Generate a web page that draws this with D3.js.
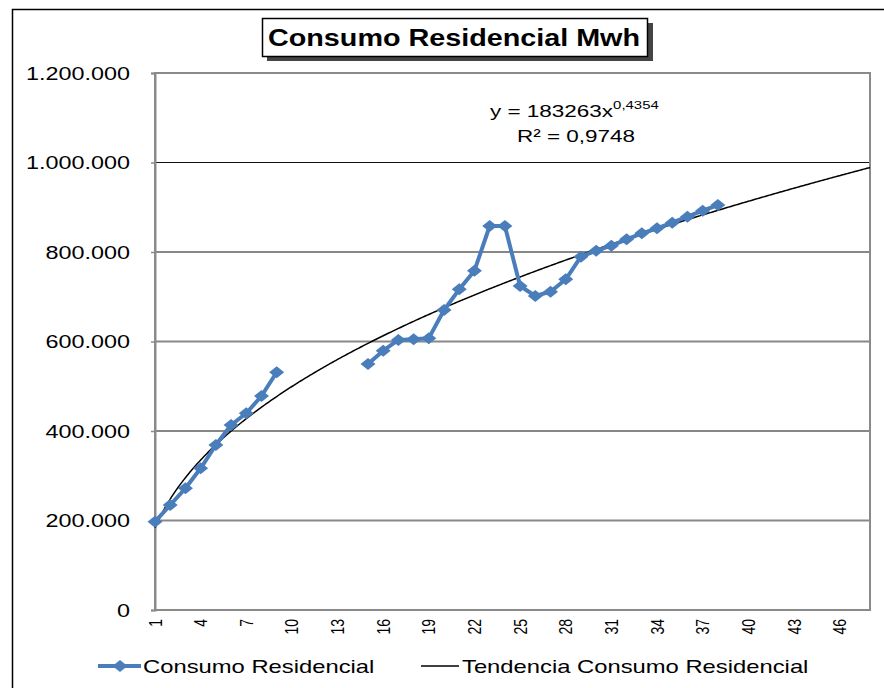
<!DOCTYPE html>
<html>
<head>
<meta charset="utf-8">
<script src="https://cdn.jsdelivr.net/npm/d3@7"></script>
<style>
  body { margin: 0; background: #fff; }
  svg { display: block; font-family: "Liberation Sans", Arial, sans-serif; }
</style>
</head>
<body>
<div id="chart"></div>
<script>
const categories = d3.range(1, 49)
const consumo = [
    197300, 234600, 272000, 316600, 368700, 413400, 439600, 478200, 531200,
    null, null, null, null, null,
    549700, 579400, 603400, 605000, 607500, 670400, 716600, 758200, 858100, 858100,
    724000, 701700, 711300, 739000, 789500, 803000, 814100, 828400, 841800, 853000,
    865500, 878900, 892300, 905000,
    null, null, null, null, null, null, null, null, null, null
]
const yTicks = [0, 200000, 400000, 600000, 800000, 1000000, 1200000]
const xTickLabels = [1, 4, 7, 10, 13, 16, 19, 22, 25, 28, 31, 34, 37, 40, 43, 46]
const trendCoef = 183263
const trendExp = 0.4354
const rSquared = "0,9748"

const W = 884, H = 688
const SX = 1.3   // the picture is stretched sideways
const plotLeft = 155, plotRight = 870, plotTop = 73, plotBottom = 610
const blue = "#4a7ebb"

const svg = d3.select("#chart").append("svg").attr("width", W).attr("height", H)

const locale = d3.formatLocale({ decimal: ",", thousands: ".", grouping: [3], currency: ["", ""] })
const fmt = locale.format(",d")

const x = d3.scalePoint().domain(categories).range([plotLeft, plotRight])
const xLin = d3.scaleLinear().domain([1, 48]).range([plotLeft, plotRight])
const y = d3.scaleLinear().domain([0, 1200000]).range([plotBottom, plotTop])

// outer frame
svg.append("rect")
    .attr("x", 12.5).attr("y", 9.5).attr("width", 900).attr("height", 700)
    .attr("fill", "none").attr("stroke", "#000").attr("stroke-width", 1.5)

// gridlines (some come out grey in the original, some black)
const greyGrid = [200000, 600000]
svg.selectAll("line.grid")
    .data(yTicks.filter(d => d > 0 && d < 1200000))
    .join("line")
    .attr("class", "grid")
    .attr("x1", plotLeft).attr("x2", plotRight)
    .attr("y1", d => y(d)).attr("y2", d => y(d))
    .attr("stroke", d => greyGrid.includes(d) ? "#888" : "#111")
    .attr("stroke-width", d => greyGrid.includes(d) ? 2 : 1.2)

// plot frame
svg.append("rect")
    .attr("x", plotLeft).attr("y", plotTop).attr("width", plotRight - plotLeft).attr("height", plotBottom - plotTop)
    .attr("fill", "none").attr("stroke", "#8a8a8a").attr("stroke-width", 2)

// y axis
const yAxis = svg.append("g")
    .attr("transform", `translate(${plotLeft},0)`)
    .call(d3.axisLeft(y).tickValues(yTicks).tickFormat(fmt).tickSize(4).tickPadding(0))
yAxis.select(".domain").attr("stroke", "#8a8a8a").attr("stroke-width", 2)
yAxis.selectAll(".tick line").attr("stroke", "#8a8a8a").attr("stroke-width", 1.5)
yAxis.selectAll(".tick text")
    .attr("x", -25 / SX)
    .attr("dy", "0.36em")
    .attr("font-size", 18)
    .attr("fill", "#000")
    .attr("font-family", "Liberation Sans, Arial, sans-serif")
    .attr("transform", `scale(${SX},1)`)

// x labels
svg.append("g").selectAll("text")
    .data(xTickLabels)
    .join("text")
    .attr("transform", d => `translate(${x(d)},619) scale(${SX},1) rotate(-90)`)
    .attr("text-anchor", "end")
    .attr("dy", "0.36em")
    .attr("font-size", 14)
    .text(d => d)

// trend line
const trendPts = d3.range(1, 48.01, 0.1).map(v => [v, trendCoef * Math.pow(v, trendExp)])
svg.append("path")
    .datum(trendPts)
    .attr("fill", "none")
    .attr("stroke", "#000")
    .attr("stroke-width", 1.5)
    .attr("d", d3.line().x(d => xLin(d[0])).y(d => y(d[1])))

// data series
const pts = categories.map((c, i) => ({ c: c, v: consumo[i] }))
svg.append("path")
    .datum(pts)
    .attr("fill", "none")
    .attr("stroke", blue)
    .attr("stroke-width", 4)
    .attr("stroke-linejoin", "round")
    .attr("d", d3.line().defined(d => d.v != null).x(d => x(d.c)).y(d => y(d.v)))

const diamond = "M0,-6L7.5,0L0,6L-7.5,0Z"
svg.selectAll("path.mark")
    .data(pts.filter(d => d.v != null))
    .join("path")
    .attr("class", "mark")
    .attr("d", diamond)
    .attr("fill", blue)
    .attr("transform", d => `translate(${x(d.c)},${y(d.v)})`)

// equation
const eq = svg.append("text")
    .attr("transform", `translate(490,117) scale(${SX},1)`)
    .attr("font-size", 17.3)
eq.append("tspan").text("y = " + trendCoef + "x")
eq.append("tspan").attr("dy", -8).attr("font-size", 11.5).text(String(trendExp).replace(".", ","))
svg.append("text")
    .attr("transform", `translate(576,142) scale(${SX},1)`)
    .attr("text-anchor", "middle")
    .attr("font-size", 17.3)
    .text("R² = " + rSquared)

// title box
svg.append("rect")
    .attr("x", 267).attr("y", 23).attr("width", 386).attr("height", 38)
    .attr("fill", "#444")
svg.append("rect")
    .attr("x", 262.5).attr("y", 18.5).attr("width", 385).attr("height", 38)
    .attr("fill", "#fff").attr("stroke", "#000").attr("stroke-width", 1.5)
svg.append("text")
    .attr("transform", `translate(454,46) scale(1.25,1)`)
    .attr("text-anchor", "middle")
    .attr("font-size", 23)
    .attr("font-weight", "bold")
    .text("Consumo Residencial Mwh")

// legend
const legend = svg.append("g")
legend.append("line")
    .attr("x1", 98).attr("x2", 141).attr("y1", 666).attr("y2", 666)
    .attr("stroke", blue).attr("stroke-width", 4)
legend.append("path")
    .attr("d", diamond).attr("fill", blue)
    .attr("transform", "translate(120,666)")
legend.append("text")
    .attr("transform", `translate(143,672.5) scale(${SX},1)`)
    .attr("font-size", 18.3)
    .text("Consumo Residencial")
legend.append("line")
    .attr("x1", 421).attr("x2", 459).attr("y1", 666).attr("y2", 666)
    .attr("stroke", "#000").attr("stroke-width", 1.5)
legend.append("text")
    .attr("transform", `translate(462,672.5) scale(${SX},1)`)
    .attr("font-size", 18.3)
    .text("Tendencia Consumo Residencial")
</script>
</body>
</html>
